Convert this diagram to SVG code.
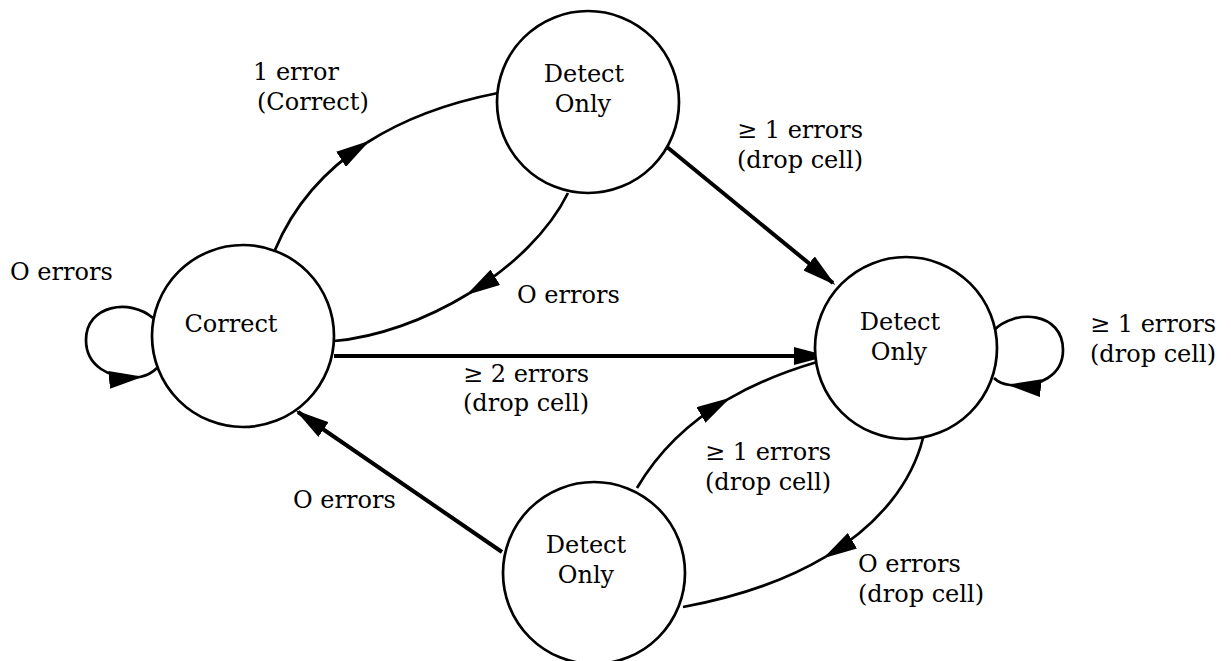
<svg xmlns="http://www.w3.org/2000/svg" width="1231" height="661" viewBox="0 0 1231 661">
<defs>
<style>
.node{fill:#fff;stroke:#000;stroke-width:2.7}
text{font-family:"DejaVu Serif","Liberation Serif",serif;font-size:24px;fill:#000}
.nt{text-anchor:middle}
.e{fill:none;stroke:#000;stroke-width:2.7}
.t{fill:none;stroke:#000;stroke-width:4}
.a{marker-end:url(#ah)}
</style>
<marker id="ah" viewBox="0 0 34 18" markerWidth="34" markerHeight="18" refX="31" refY="9" orient="auto" markerUnits="userSpaceOnUse"><path d="M0,0 L34,9 L0,18 z" fill="#000"/></marker>
</defs>
<rect width="1231" height="661" fill="#fff"/>
<g id="connectors">
<g id="e-correct-loop"><path class="e a" d="M153,318 C130,298 86,305 86,340 C86,365 108,380 140,377"/><path class="e" d="M140,377 Q150,375 157,368"/></g>
<g id="e-correct-top"><path class="e a" d="M275,250 C290,214 317.6,174.4 367.1,142.5"/><path class="e" d="M367.1,142.5 C400.1,121.5 442.8,103.8 498,93"/></g>
<g id="e-top-correct"><path class="e a" d="M568,193 C549,231.5 512,267 468.9,293.5"/><path class="e" d="M468.9,293.5 C425.75,320 376.5,337.5 334,341"/></g>
<g id="e-top-right"><path class="t a" d="M667,147 L833,283"/></g>
<g id="e-correct-right"><path class="t a" d="M334,356 L825,356"/></g>
<g id="e-bottom-correct"><path class="t a" d="M502,552 L298,412"/></g>
<g id="e-bottom-right"><path class="e a" d="M637,488 C655.2,456.8 682.7,425.6 727.7,399.3"/><path class="e" d="M727.7,399.3 C752,385.2 781.3,372.5 817,362"/></g>
<g id="e-right-bottom"><path class="e a" d="M923,438 C912.2,481.2 880.9,523.7 825.8,556.6"/><path class="e" d="M825.8,556.6 C789.1,578.5 741.8,596.2 683,607"/></g>
<g id="e-right-loop"><path class="e a" d="M993,331 C1015,308 1063,312 1063,350 C1063,375 1040,388 1010,385"/><path class="e" d="M1010,385 Q1000,384 994,378"/></g>
</g>
<g id="labels">
<text x="10" y="280">O errors</text>
<text x="253" y="80">1 error</text>
<text x="257" y="110">(Correct)</text>
<text x="737" y="138">≥ 1 errors</text>
<text x="737" y="168">(drop cell)</text>
<text x="517" y="303">O errors</text>
<text x="463" y="382">≥ 2 errors</text>
<text x="463" y="411">(drop cell)</text>
<text x="293" y="508">O errors</text>
<text x="705" y="460">≥ 1 errors</text>
<text x="705" y="490">(drop cell)</text>
<text x="858" y="572">O errors</text>
<text x="858" y="602">(drop cell)</text>
<text x="1090" y="332">≥ 1 errors</text>
<text x="1090" y="362">(drop cell)</text>
</g>
<g id="n-correct"><circle class="node" cx="243" cy="336" r="91"/><text class="nt" x="231" y="332">Correct</text></g>
<g id="n-top"><circle class="node" cx="588" cy="102" r="91"/><text class="nt" x="584" y="82">Detect</text><text class="nt" x="583" y="112">Only</text></g>
<g id="n-right"><circle class="node" cx="906" cy="348" r="91"/><text class="nt" x="900" y="330">Detect</text><text class="nt" x="899" y="360">Only</text></g>
<g id="n-bottom"><circle class="node" cx="594" cy="573" r="91"/><text class="nt" x="586" y="553">Detect</text><text class="nt" x="586" y="583">Only</text></g>
</svg>
